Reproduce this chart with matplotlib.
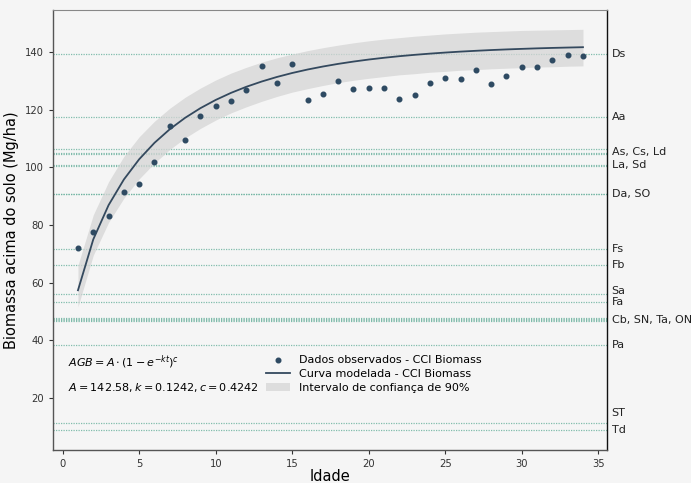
import matplotlib
matplotlib.use("Agg")
import matplotlib.pyplot as plt
import matplotlib.transforms as mtransforms

# ---------------- data ----------------
ages = list(range(1, 35))
observed = [71.9, 77.4, 83.0, 91.3, 94.3, 101.9, 114.3, 109.5, 117.8, 121.2,
            122.9, 126.9, 135.3, 129.4, 136.0, 123.4, 125.6, 130.1, 127.2, 127.4,
            127.4, 123.8, 125.2, 129.4, 130.9, 130.5, 133.9, 128.9, 131.6, 134.7,
            134.7, 137.2, 138.9, 138.5]
modelled = [57.34, 75.00, 86.88, 95.79, 102.81, 108.51, 113.23, 117.18, 120.53, 123.39,
            125.84, 127.95, 129.77, 131.36, 132.74, 133.94, 134.98, 135.90, 136.70, 137.41,
            138.02, 138.57, 139.04, 139.46, 139.83, 140.16, 140.44, 140.70, 140.92, 141.11,
            141.29, 141.44, 141.57, 141.69]
ci_lower = [51.6, 69.5, 80.9, 89.3, 96.0, 101.5, 106.2, 110.2, 113.5, 116.4,
            118.9, 121.0, 122.9, 124.6, 126.1, 127.3, 128.4, 129.4, 130.2, 130.9,
            131.5, 132.1, 132.5, 133.0, 133.3, 133.7, 133.9, 134.2, 134.4, 134.6,
            134.8, 134.9, 135.1, 135.2]
ci_upper = [66.0, 83.5, 95.0, 103.8, 110.6, 116.0, 120.5, 124.3, 127.5, 130.3,
            132.7, 134.7, 136.5, 138.0, 139.3, 140.5, 141.5, 142.4, 143.2, 143.9,
            144.5, 145.0, 145.5, 145.9, 146.3, 146.6, 146.9, 147.1, 147.3, 147.5,
            147.6, 147.7, 147.8, 147.9]

# reference classes (horizontal lines)
ref_classes = ["Ds", "Aa", "As", "Cs", "Ld", "La", "Sd", "Da", "SO", "Fs", "Fb",
               "Sa", "Fa", "Cb", "SN", "Ta", "ON", "Pa", "ST", "Td"]
ref_values = [139.3, 117.4, 106.5, 104.8, 104.5, 100.8, 100.6, 90.8, 90.6, 71.6, 66.1,
              56.0, 53.1, 47.6, 47.2, 46.9, 46.6, 38.4, 11.2, 8.8]
# grouped labels on the right
group_labels = ["Ds", "Aa", "As, Cs, Ld", "La, Sd", "Da, SO", "Fs", "Fb",
                "Sa", "Fa", "Cb, SN, Ta, ON", "Pa", "ST", "Td"]
group_values = [139.3, 117.4, 105.3, 100.7, 90.7, 71.6, 66.1,
                56.0, 53.1, 47.1, 38.4, 11.2, 8.8]

A_val, k_val, c_val = 142.58, 0.1242, 0.4242

# ---------------- layout / style ----------------
label_nudge = {"Sa": 1.2, "ST": 3.4}   # display adjustments to avoid overlap
bg = "#f5f5f5"
dot_color = "#2e4a62"
line_color = "#34495e"
ref_color = "#6db3a0"

fig = plt.figure(figsize=(6.91, 4.83), dpi=100, facecolor=bg)
ax = fig.add_axes([0.0763, 0.0683, 0.8017, 0.9110])
ax.set_facecolor(bg)

for v in ref_values:
    ax.axhline(v, color=ref_color, linestyle=(0, (1, 1)), linewidth=0.9, alpha=0.85, zorder=1)

ax.fill_between(ages, ci_lower, ci_upper, color="#d5d5d5", alpha=0.75, linewidth=0,
                zorder=2, label="Intervalo de confiança de 90%")
ax.plot(ages, modelled, color=line_color, linewidth=1.3, zorder=3,
        label="Curva modelada - CCI Biomass")
ax.scatter(ages, observed, s=11, color=dot_color, zorder=4,
           label="Dados observados - CCI Biomass")

trans = mtransforms.blended_transform_factory(ax.transAxes, ax.transData)
for lab, v in zip(group_labels, group_values):
    ax.text(1.009, v + label_nudge.get(lab, 0), lab, transform=trans, ha="left",
            va="center", fontsize=8, color="#222222")

ax.set_xlim(-0.65, 35.55)
ax.set_ylim(1.9, 154.6)
ax.set_xticks([0, 5, 10, 15, 20, 25, 30, 35])
ax.set_yticks([20, 40, 60, 80, 100, 120, 140])
ax.tick_params(labelsize=7.2, colors="#333333", length=3, width=0.8)
ax.set_xlabel("Idade", fontsize=10.5, labelpad=0)
ax.set_ylabel("Biomassa acima do solo (Mg/ha)", fontsize=10.5, labelpad=4)

for s in ["left", "bottom"]:
    ax.spines[s].set_color("#555555")
    ax.spines[s].set_linewidth(1.0)
ax.spines["top"].set_color("#888888")
ax.spines["right"].set_color("#111111")
ax.spines["right"].set_linewidth(1.0)

ax.text(0.027, 0.200, r"$AGB = A \cdot (1 - e^{-kt})^c$", transform=ax.transAxes,
        fontsize=8, ha="left", va="center")
ax.text(0.027, 0.143, r"$A = %.2f, k = %.4f, c = %.4f$" % (A_val, k_val, c_val),
        transform=ax.transAxes, fontsize=8, ha="left", va="center")

handles, labels = ax.get_legend_handles_labels()
order = [2, 1, 0]
ax.legend([handles[i] for i in order], [labels[i] for i in order],
          loc="lower left", bbox_to_anchor=(0.377, 0.12), frameon=False,
          fontsize=8, handlelength=2.2, labelspacing=0.35, borderaxespad=0)

fig.savefig("out.png", dpi=100, facecolor=bg)
